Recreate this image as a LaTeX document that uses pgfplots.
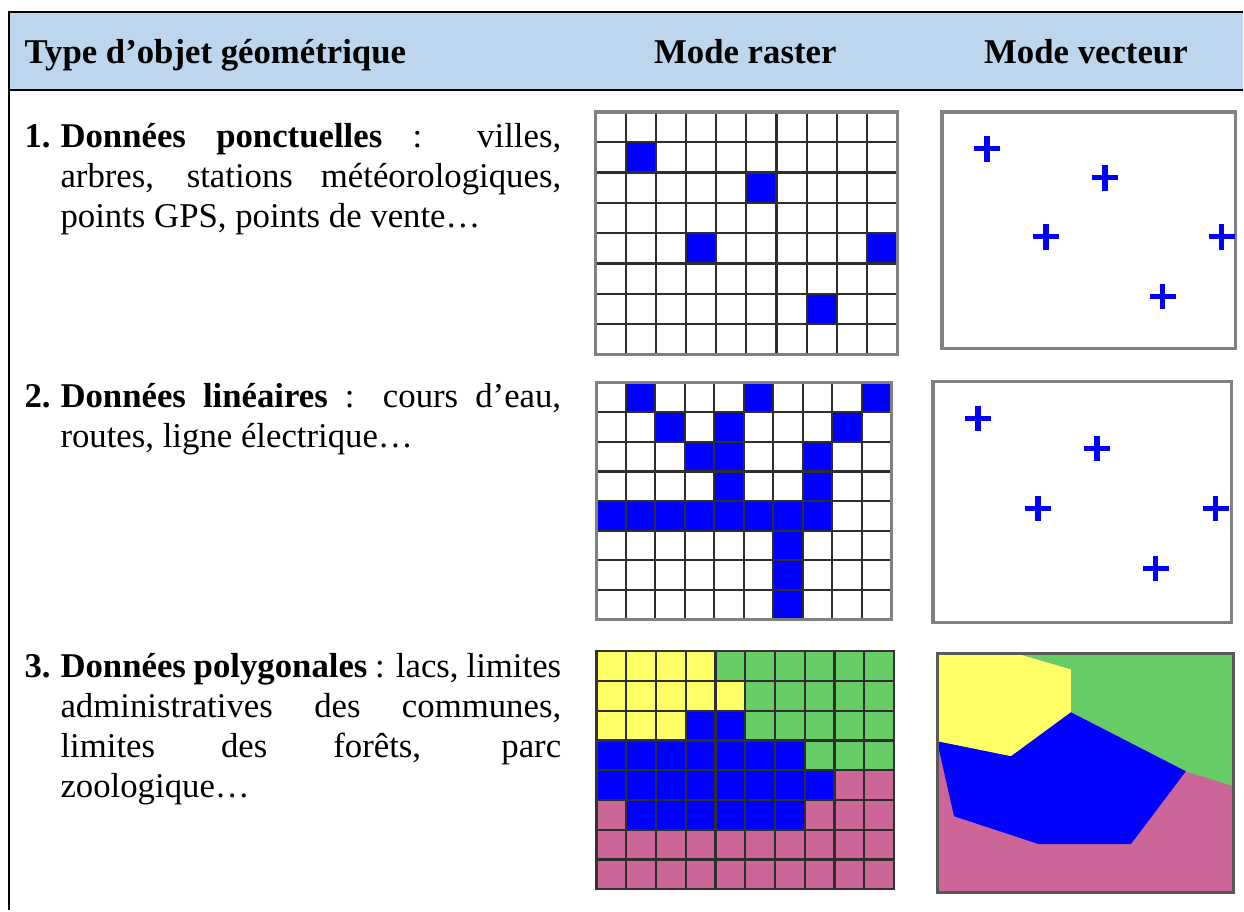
\documentclass[border=0pt]{standalone}
\usepackage{pgfplots}
\pgfplotsset{compat=1.18}
\usepackage{fontspec}
\setmainfont{Liberation Serif}
\definecolor{hdr}{RGB}{189,214,238}
\definecolor{cy}{RGB}{255,255,102}
\definecolor{cg}{RGB}{102,204,102}
\definecolor{cp}{RGB}{204,102,153}
\definecolor{cb}{RGB}{0,0,255}
\pgfplotsset{
  raster/.style={scale only axis, anchor=north west,
    xmin=0, xmax=10, ymin=0, ymax=8, y dir=reverse, enlargelimits=false,
    xtick={0,...,10}, ytick={0,...,8}, xticklabels={}, yticklabels={},
    major tick length=0pt, grid=major,
    major grid style={black!82, line width=0.75pt},
    axis line style={black!50, line width=1.1pt}, axis on top,
    colormap={cat}{rgb255=(255,255,255) rgb255=(0,0,255) rgb255=(255,255,102) rgb255=(102,204,102) rgb255=(204,102,153)},
    point meta min=0, point meta max=4}
}
\tikzset{txt/.style={inner sep=0pt, font=\fontsize{12}{13.8}\selectfont}}
\begin{document}
\begin{tikzpicture}
\begin{axis}[at={(0,0)}, anchor=north west, x=0.345pt, y=0.345pt, y dir=reverse,
  xmin=0, xmax=1244, ymin=0, ymax=911, hide axis, clip=false]
% background
\addplot[draw=none, fill=white] coordinates {(0,0) (1244,0) (1244,911) (0,911)} -- cycle;
% header band
\addplot[draw=none, fill=hdr] coordinates {(9,12) (1244,12) (1244,90) (9,90)} -- cycle;
\addplot[black, line width=0.85pt] coordinates {(8,12) (1244,12)};
\addplot[black, line width=0.85pt] coordinates {(8,90) (1244,90)};
\addplot[black, line width=0.85pt] coordinates {(9,11) (9,911)};
% header text
\node[txt, anchor=base west, font=\fontsize{12}{13.8}\selectfont\bfseries] at (axis cs:24,64) {Type d’objet géométrique};
\node[txt, anchor=base, font=\fontsize{12}{13.8}\selectfont\bfseries] at (axis cs:746,64) {Mode raster};
\node[txt, anchor=base, font=\fontsize{12}{13.8}\selectfont\bfseries] at (axis cs:1087,64) {Mode vecteur};
% item texts
\node[txt, anchor=base west, font=\fontsize{12}{13.8}\selectfont\bfseries] at (axis cs:24,148) {1.};
\node[txt, anchor=base west] at (axis cs:60,148) {\parbox[t]{172.9pt}{\hyphenpenalty=10000\fontsize{12}{13.8}\selectfont
\textbf{Données ponctuelles} : villes,\linebreak arbres, stations météorologiques,\linebreak points GPS, points de vente…}};
\node[txt, anchor=base west, font=\fontsize{12}{13.8}\selectfont\bfseries] at (axis cs:24,408) {2.};
\node[txt, anchor=base west] at (axis cs:60,408) {\parbox[t]{172.9pt}{\hyphenpenalty=10000\fontsize{12}{13.8}\selectfont
\textbf{Données linéaires} : cours d’eau,\linebreak routes, ligne électrique…}};
\node[txt, anchor=base west, font=\fontsize{12}{13.8}\selectfont\bfseries] at (axis cs:24,678) {3.};
\node[txt, anchor=base west] at (axis cs:60,678) {\parbox[t]{172.9pt}{\hyphenpenalty=10000\fontsize{12}{13.8}\selectfont
\textbf{Données polygonales} : lacs, limites\linebreak administratives des communes,\linebreak limites des forêts, parc\linebreak zoologique…}};
% vector panel 1: points
\addplot[black!50, line width=1.1pt, fill=white] coordinates {(943,112) (1237,112) (1237,349) (943,349)} -- cycle;
\addplot[only marks, mark=+, mark size=4.4pt, color=cb, line width=1.8pt]
  coordinates {(988,149) (1106,178) (1047,237) (1223,237) (1164,297)};
% vector panel 2
\addplot[black!50, line width=1.1pt, fill=white] coordinates {(934,382) (1233,382) (1233,623) (934,623)} -- cycle;
\addplot[only marks, mark=+, mark size=4.4pt, color=cb, line width=1.8pt]
  coordinates {(979,419) (1098,449) (1039,509) (1217,509) (1157,569)};
% vector panel 3: polygons
\addplot[draw=none, fill=cp] coordinates {(938,654) (1235,654) (1235,893) (938,893)} -- cycle;
\addplot[draw=none, fill=cg] coordinates {(1017,654) (1235,654) (1235,787) (1187,772) (1072,713) (1072,670)} -- cycle;
\addplot[draw=none, fill=cy] coordinates {(938,654) (1017,654) (1072,670) (1072,713) (1012,757) (938,742)} -- cycle;
\addplot[draw=none, fill=cb] coordinates {(938,742) (1012,757) (1072,713) (1187,772) (1132,845) (1040,845) (955,817)} -- cycle;
\addplot[black!65, line width=1pt] coordinates {(938,654) (1235,654) (1235,893) (938,893)} -- cycle;
% anchors for raster panels
\coordinate (R1) at (axis cs:596,112);
\coordinate (R2) at (axis cs:597,383);
\coordinate (R3) at (axis cs:597,652);
\end{axis}

% raster 1: points
\begin{axis}[raster, at={(R1)}, width=104.2pt, height=83.8pt]
\addplot[matrix plot*, mesh/cols=10, point meta=explicit] coordinates {
(0.5,0.5)[0] (1.5,0.5)[0] (2.5,0.5)[0] (3.5,0.5)[0] (4.5,0.5)[0] (5.5,0.5)[0] (6.5,0.5)[0] (7.5,0.5)[0] (8.5,0.5)[0] (9.5,0.5)[0]
(0.5,1.5)[0] (1.5,1.5)[1] (2.5,1.5)[0] (3.5,1.5)[0] (4.5,1.5)[0] (5.5,1.5)[0] (6.5,1.5)[0] (7.5,1.5)[0] (8.5,1.5)[0] (9.5,1.5)[0]
(0.5,2.5)[0] (1.5,2.5)[0] (2.5,2.5)[0] (3.5,2.5)[0] (4.5,2.5)[0] (5.5,2.5)[1] (6.5,2.5)[0] (7.5,2.5)[0] (8.5,2.5)[0] (9.5,2.5)[0]
(0.5,3.5)[0] (1.5,3.5)[0] (2.5,3.5)[0] (3.5,3.5)[0] (4.5,3.5)[0] (5.5,3.5)[0] (6.5,3.5)[0] (7.5,3.5)[0] (8.5,3.5)[0] (9.5,3.5)[0]
(0.5,4.5)[0] (1.5,4.5)[0] (2.5,4.5)[0] (3.5,4.5)[1] (4.5,4.5)[0] (5.5,4.5)[0] (6.5,4.5)[0] (7.5,4.5)[0] (8.5,4.5)[0] (9.5,4.5)[1]
(0.5,5.5)[0] (1.5,5.5)[0] (2.5,5.5)[0] (3.5,5.5)[0] (4.5,5.5)[0] (5.5,5.5)[0] (6.5,5.5)[0] (7.5,5.5)[0] (8.5,5.5)[0] (9.5,5.5)[0]
(0.5,6.5)[0] (1.5,6.5)[0] (2.5,6.5)[0] (3.5,6.5)[0] (4.5,6.5)[0] (5.5,6.5)[0] (6.5,6.5)[0] (7.5,6.5)[1] (8.5,6.5)[0] (9.5,6.5)[0]
(0.5,7.5)[0] (1.5,7.5)[0] (2.5,7.5)[0] (3.5,7.5)[0] (4.5,7.5)[0] (5.5,7.5)[0] (6.5,7.5)[0] (7.5,7.5)[0] (8.5,7.5)[0] (9.5,7.5)[0]
};
\end{axis}

% raster 2: lines
\begin{axis}[raster, at={(R2)}, width=101.8pt, height=81.8pt]
\addplot[matrix plot*, mesh/cols=10, point meta=explicit] coordinates {
(0.5,0.5)[0] (1.5,0.5)[1] (2.5,0.5)[0] (3.5,0.5)[0] (4.5,0.5)[0] (5.5,0.5)[1] (6.5,0.5)[0] (7.5,0.5)[0] (8.5,0.5)[0] (9.5,0.5)[1]
(0.5,1.5)[0] (1.5,1.5)[0] (2.5,1.5)[1] (3.5,1.5)[0] (4.5,1.5)[1] (5.5,1.5)[0] (6.5,1.5)[0] (7.5,1.5)[0] (8.5,1.5)[1] (9.5,1.5)[0]
(0.5,2.5)[0] (1.5,2.5)[0] (2.5,2.5)[0] (3.5,2.5)[1] (4.5,2.5)[1] (5.5,2.5)[0] (6.5,2.5)[0] (7.5,2.5)[1] (8.5,2.5)[0] (9.5,2.5)[0]
(0.5,3.5)[0] (1.5,3.5)[0] (2.5,3.5)[0] (3.5,3.5)[0] (4.5,3.5)[1] (5.5,3.5)[0] (6.5,3.5)[0] (7.5,3.5)[1] (8.5,3.5)[0] (9.5,3.5)[0]
(0.5,4.5)[1] (1.5,4.5)[1] (2.5,4.5)[1] (3.5,4.5)[1] (4.5,4.5)[1] (5.5,4.5)[1] (6.5,4.5)[1] (7.5,4.5)[1] (8.5,4.5)[0] (9.5,4.5)[0]
(0.5,5.5)[0] (1.5,5.5)[0] (2.5,5.5)[0] (3.5,5.5)[0] (4.5,5.5)[0] (5.5,5.5)[0] (6.5,5.5)[1] (7.5,5.5)[0] (8.5,5.5)[0] (9.5,5.5)[0]
(0.5,6.5)[0] (1.5,6.5)[0] (2.5,6.5)[0] (3.5,6.5)[0] (4.5,6.5)[0] (5.5,6.5)[0] (6.5,6.5)[1] (7.5,6.5)[0] (8.5,6.5)[0] (9.5,6.5)[0]
(0.5,7.5)[0] (1.5,7.5)[0] (2.5,7.5)[0] (3.5,7.5)[0] (4.5,7.5)[0] (5.5,7.5)[0] (6.5,7.5)[1] (7.5,7.5)[0] (8.5,7.5)[0] (9.5,7.5)[0]
};
\end{axis}

% raster 3: polygons
\begin{axis}[raster, at={(R3)}, width=102.8pt, height=82.1pt, axis line style={black!80, line width=0.75pt}]
\addplot[matrix plot*, mesh/cols=10, point meta=explicit] coordinates {
(0.5,0.5)[2] (1.5,0.5)[2] (2.5,0.5)[2] (3.5,0.5)[2] (4.5,0.5)[3] (5.5,0.5)[3] (6.5,0.5)[3] (7.5,0.5)[3] (8.5,0.5)[3] (9.5,0.5)[3]
(0.5,1.5)[2] (1.5,1.5)[2] (2.5,1.5)[2] (3.5,1.5)[2] (4.5,1.5)[2] (5.5,1.5)[3] (6.5,1.5)[3] (7.5,1.5)[3] (8.5,1.5)[3] (9.5,1.5)[3]
(0.5,2.5)[2] (1.5,2.5)[2] (2.5,2.5)[2] (3.5,2.5)[1] (4.5,2.5)[1] (5.5,2.5)[3] (6.5,2.5)[3] (7.5,2.5)[3] (8.5,2.5)[3] (9.5,2.5)[3]
(0.5,3.5)[1] (1.5,3.5)[1] (2.5,3.5)[1] (3.5,3.5)[1] (4.5,3.5)[1] (5.5,3.5)[1] (6.5,3.5)[1] (7.5,3.5)[3] (8.5,3.5)[3] (9.5,3.5)[3]
(0.5,4.5)[1] (1.5,4.5)[1] (2.5,4.5)[1] (3.5,4.5)[1] (4.5,4.5)[1] (5.5,4.5)[1] (6.5,4.5)[1] (7.5,4.5)[1] (8.5,4.5)[4] (9.5,4.5)[4]
(0.5,5.5)[4] (1.5,5.5)[1] (2.5,5.5)[1] (3.5,5.5)[1] (4.5,5.5)[1] (5.5,5.5)[1] (6.5,5.5)[1] (7.5,5.5)[4] (8.5,5.5)[4] (9.5,5.5)[4]
(0.5,6.5)[4] (1.5,6.5)[4] (2.5,6.5)[4] (3.5,6.5)[4] (4.5,6.5)[4] (5.5,6.5)[4] (6.5,6.5)[4] (7.5,6.5)[4] (8.5,6.5)[4] (9.5,6.5)[4]
(0.5,7.5)[4] (1.5,7.5)[4] (2.5,7.5)[4] (3.5,7.5)[4] (4.5,7.5)[4] (5.5,7.5)[4] (6.5,7.5)[4] (7.5,7.5)[4] (8.5,7.5)[4] (9.5,7.5)[4]
};
\end{axis}
\end{tikzpicture}
\end{document}
